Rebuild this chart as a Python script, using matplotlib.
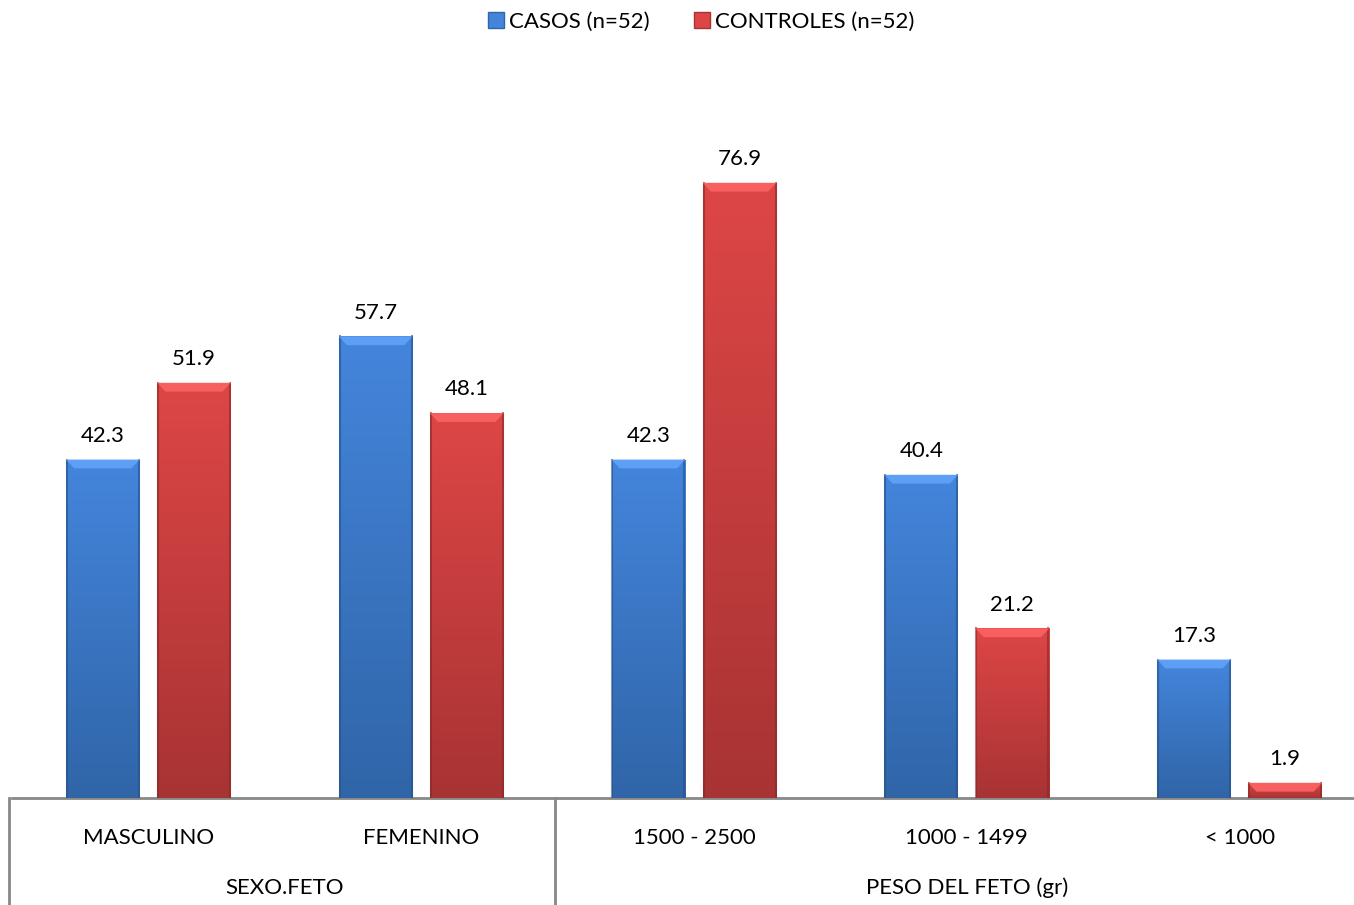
import matplotlib.pyplot as plt
import matplotlib.colors as mcolors
import numpy as np
from matplotlib.patches import Polygon, Patch

plt.rcParams['font.family'] = ['Lato', 'DejaVu Sans']

categories = ["MASCULINO", "FEMENINO", "1500 - 2500", "1000 - 1499", "< 1000"]
groups = ["SEXO.FETO", "PESO DEL FETO (gr)"]
group_spans = [(0, 1), (2, 4)]
casos = [42.3, 57.7, 42.3, 40.4, 17.3]
controles = [51.9, 48.1, 76.9, 21.2, 1.9]
series_names = ["CASOS (n=52)", "CONTROLES (n=52)"]

# light (top) / dark (bottom) shades for the bars
blue = ("#4485dc", "#3065a8")
red = ("#de4646", "#a83333")

fig = plt.figure(figsize=(13.54, 9.05), dpi=100)
ax = fig.add_axes([12 / 1354, 107 / 905, 1364 / 1354, 720 / 905])
ax.set_xlim(-0.5, 4.5)
ax.set_ylim(0, 90)

x = np.arange(len(categories))
width = 0.27
offset = 0.167


def shaded_bars(xs, vals, shades):
    bars = ax.bar(xs, vals, width, color=shades[1], edgecolor="none", zorder=2)
    cmap = mcolors.LinearSegmentedColormap.from_list("g", [shades[1], shades[0]])
    edge = mcolors.to_rgb(shades[1])
    edge = tuple(c * 0.8 for c in edge)
    for b in bars:
        x0, w, h = b.get_x(), b.get_width(), b.get_height()
        grad = np.linspace(0, 1, 256).reshape(-1, 1)
        im = ax.imshow(grad, extent=(x0, x0 + w, 0, h), origin="lower",
                       cmap=cmap, aspect="auto", zorder=3)
        im.set_clip_path(b)
        # darker sides
        ax.plot([x0 + 0.003, x0 + 0.003], [0, h], color=edge, lw=1.5, alpha=0.6, zorder=4)
        ax.plot([x0 + w - 0.003, x0 + w - 0.003], [0, h], color=edge, lw=1.5, alpha=0.6, zorder=4)
        # bevelled cap
        cap = min(1.1, h * 0.6)
        inset = 0.03
        light = mcolors.to_rgb(shades[0])
        light = tuple(min(1, c + 0.1) for c in light)
        ax.add_patch(Polygon([(x0, h), (x0 + w, h), (x0 + w - inset, h - cap),
                              (x0 + inset, h - cap)], closed=True,
                             facecolor=light, edgecolor="none", zorder=5))
        ax.annotate(f"{h:.1f}", (x0 + w / 2, h), xytext=(0, 10),
                    textcoords="offset points", ha="center", va="bottom",
                    fontsize=16, color="black")
    return bars


shaded_bars(x - offset, casos, blue)
shaded_bars(x + offset, controles, red)

ax.set_xticks([])
ax.set_yticks([])
for s in ["top", "right", "left"]:
    ax.spines[s].set_visible(False)
ax.spines["bottom"].set_color("#888888")
ax.spines["bottom"].set_linewidth(2)

# category table under the axis
trans = ax.get_xaxis_transform()
for i, c in enumerate(categories):
    ax.text(i, -0.056, c, transform=trans, ha="center", va="center", fontsize=16)
for g, (a, b) in zip(groups, group_spans):
    ax.text((a + b) / 2, -0.125, g, transform=trans, ha="center", va="center", fontsize=16)
for a, b in group_spans:
    ax.plot([a - 0.51, a - 0.51], [0, -0.15], transform=trans, color="#888888",
            lw=2, clip_on=False)

handles = [Patch(facecolor=blue[0], edgecolor=blue[1]),
           Patch(facecolor=red[0], edgecolor=red[1])]
fig.legend(handles, series_names, loc="center", bbox_to_anchor=(0.518, 0.976),
           ncol=2, frameon=False, fontsize=16, handlelength=0.7, handleheight=0.7,
           handletextpad=0.25, columnspacing=2.0)

fig.savefig("out.png", dpi=100)
